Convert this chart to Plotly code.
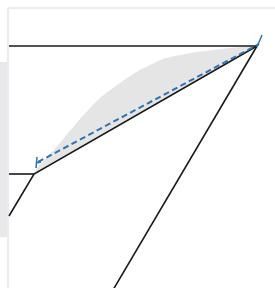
import plotly.graph_objects as go

W, H = 275, 288

# Diagram geometry (pixel-space data)
top_line_x = [9, 257]
top_line_y = [46, 46]
main_x = [257, 34, 9]
main_y = [46, 174, 216]
stub_x = [9, 34]
stub_y = [174, 174]
long_x = [257, 113]
long_y = [46, 290]
shade_upper_x = [37, 48, 60, 80, 100, 120, 138, 150, 163, 180, 197, 213, 230, 257]
shade_upper_y = [168, 156, 143, 119, 98, 83, 71, 65, 59, 55, 52, 50, 48, 46]
dash_x = [38, 259]
dash_y = [162, 44]
head_left_x = [37, 36, None, 36, 41]
head_left_y = [157, 168, None, 163, 162]
head_right_x = [257, 262]
head_right_y = [47, 35]
panel_x = [0, 8, 8, 0, 0]
panel_y = [62, 62, 237, 237, 62]
frame_x = [8, 8, None, 8, 275]
frame_y = [288, 8, None, 8, 8]

fig = go.Figure()

fig.add_trace(go.Scatter(x=panel_x, y=panel_y, fill="toself", fillcolor="#e8e8ea",
                         mode="none", hoverinfo="skip"))
fig.add_trace(go.Scatter(x=frame_x, y=frame_y, mode="lines",
                         line=dict(color="#ececec", width=2.2), hoverinfo="skip"))

# shaded region: upper curve then back along main diagonal
sx = shade_upper_x + [257, 146, 34]
sy = shade_upper_y + [46, 110, 174]
fig.add_trace(go.Scatter(x=sx, y=sy, fill="toself", fillcolor="#e6e5e5",
                         mode="lines", line=dict(width=0, shape="spline", smoothing=0.6,
                                                 color="rgba(0,0,0,0)"),
                         hoverinfo="skip"))

for xs, ys in [(top_line_x, top_line_y), (main_x, main_y), (stub_x, stub_y), (long_x, long_y)]:
    fig.add_trace(go.Scatter(x=xs, y=ys, mode="lines",
                             line=dict(color="#1a1a1a", width=1.6), hoverinfo="skip"))

fig.add_trace(go.Scatter(x=dash_x, y=dash_y, mode="lines",
                         line=dict(color="#2e72b6", width=2, dash="6px,3.5px"), hoverinfo="skip"))
for xs, ys in [(head_left_x, head_left_y), (head_right_x, head_right_y)]:
    fig.add_trace(go.Scatter(x=xs, y=ys, mode="lines",
                             line=dict(color="#2e72b6", width=1.5), hoverinfo="skip"))

fig.update_layout(
    width=W, height=H, margin=dict(l=0, r=0, t=0, b=0),
    paper_bgcolor="white", plot_bgcolor="white", showlegend=False,
    xaxis=dict(range=[0, W], visible=False, fixedrange=True),
    yaxis=dict(range=[H, 0], visible=False, fixedrange=True),
)
fig.write_html("out.html", config={"displayModeBar": False},
               post_script="document.body.style.margin='0';document.body.style.overflow='hidden';")
